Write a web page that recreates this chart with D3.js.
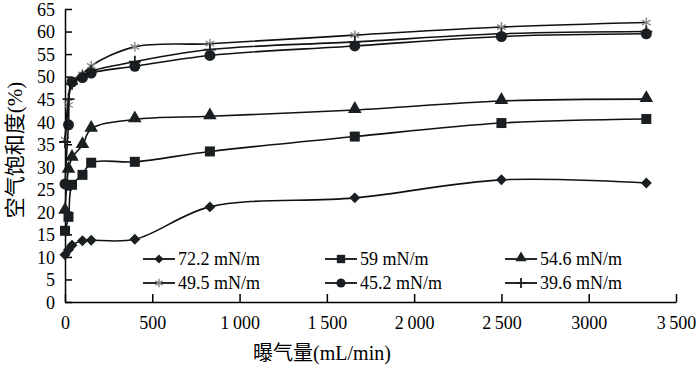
<!DOCTYPE html>
<html>
<head>
<meta charset="utf-8">
<script src="https://cdn.jsdelivr.net/npm/d3@7"></script>
<style>
  body { margin: 0; background: #fff; }
  svg text { font-family: "Liberation Serif", "Times New Roman", "Noto Sans CJK SC", serif; fill: #000; }
</style>
</head>
<body>
<svg id="chart" width="700" height="368"></svg>
<script>
// aeration rate (mL/min)
const flowRates = [0, 20, 40, 100, 150, 400, 830, 1660, 2500, 3330];

const seriesNames = ["72.2 mN/m", "59 mN/m", "54.6 mN/m", "49.5 mN/m", "45.2 mN/m", "39.6 mN/m"];
const s722 = [10.5, 11.6, 12.6, 13.6, 13.7, 13.9, 21.1, 23.1, 27.1, 26.4];
const s59  = [15.8, 18.9, 26.0, 28.2, 30.9, 31.1, 33.4, 36.7, 39.7, 40.6];
const s546 = [20.2, 29.3, 32.0, 34.8, 38.4, 40.5, 41.2, 42.6, 44.6, 45.0];
const s495 = [36.0, 43.7, 49.0, 50.5, 52.4, 56.6, 57.3, 59.2, 61.0, 62.0];
const s452 = [26.2, 39.3, 48.8, 49.8, 50.8, 52.3, 54.7, 56.8, 58.9, 59.5];
const s396 = [35.5, 45.0, 48.4, 50.0, 51.2, 53.3, 56.0, 57.7, 59.5, 60.0];
const allSeries = [s722, s59, s546, s495, s452, s396];

const xTicks = [0, 500, 1000, 1500, 2000, 2500, 3000, 3500];
const xTickLabels = ["0", "500", "1\u2009000", "1\u2009500", "2\u2009000", "2\u2009500", "3000", "3\u2009500"];
const yTicks = d3.range(0, 66, 5);

const svg = d3.select("#chart");
const margin = {left: 65, right: 24, top: 9, bottom: 66};
const W = 700, H = 368;
const serif = "'Liberation Serif', 'Times New Roman', serif";

const x = d3.scaleLinear().domain([0, 3500]).range([margin.left, W - margin.right]);
const y = d3.scaleLinear().domain([0, 65]).range([H - margin.bottom, margin.top]);

// axes, ticks point inward
const xAxis = svg.append("g")
    .attr("transform", `translate(0,${y(0)})`)
    .call(d3.axisBottom(x).tickValues(xTicks)
        .tickFormat((d, i) => xTickLabels[i])
        .tickSizeInner(-8).tickSizeOuter(0).tickPadding(14));
const yAxis = svg.append("g")
    .attr("transform", `translate(${x(0)},0)`)
    .call(d3.axisLeft(y).tickValues(yTicks)
        .tickSizeInner(-7).tickSizeOuter(0).tickPadding(10));

[xAxis, yAxis].forEach(a => {
    a.attr("font-family", null);
    a.select(".domain").attr("stroke", "#000").attr("stroke-width", 1.5);
    a.selectAll(".tick line").attr("stroke", "#000").attr("stroke-width", 1.5);
    a.selectAll("text").style("font-size", "18px").attr("fill", "#000")
        .style("font-family", serif);
});
yAxis.selectAll("text").attr("dy", "0.35em");

// axis titles
svg.append("text")
    .attr("x", 322).attr("y", 360)
    .attr("text-anchor", "middle")
    .style("font-size", "20px")
    .text("曝气量(mL/min)");

svg.append("text")
    .attr("transform", "translate(22,150) rotate(-90)")
    .attr("text-anchor", "middle")
    .style("font-size", "21px")
    .text("空气饱和度(%)");

// markers
function drawMarker(g, i, k = 1) {
    if (i === 0) {
        g.append("path").attr("d", d3.symbol(d3.symbolSquare, 60 * k)())
            .attr("transform", "rotate(45)").attr("fill", "#1a1f22");
    } else if (i === 1) {
        g.append("path").attr("d", d3.symbol(d3.symbolSquare, 100 * k)()).attr("fill", "#1a1f22");
    } else if (i === 2) {
        g.append("path").attr("d", d3.symbol(d3.symbolTriangle, 80 * k)())
            .attr("transform", "translate(0,-1)").attr("fill", "#1a1f22");
    } else if (i === 3) {
        g.append("path").attr("d", d3.symbol(d3.symbolAsterisk, 70 * k)())
            .attr("fill", "none").attr("stroke", "#8a8a8a").attr("stroke-width", 1.4);
    } else if (i === 4) {
        g.append("path").attr("d", d3.symbol(d3.symbolCircle, 95 * k)()).attr("fill", "#1a1f22");
    } else {
        const r = 6 * Math.sqrt(k);
        g.append("path").attr("d", `M${-r},0H${r}M0,${-r}V${r}`)
            .attr("fill", "none").attr("stroke", "#1a1f22").attr("stroke-width", 1.8);
    }
}

const line = d3.line()
    .x((d, i) => x(flowRates[i]))
    .y(d => y(d))
    .curve(d3.curveCatmullRom.alpha(0.5));

allSeries.forEach((vals, si) => {
    const g = svg.append("g");
    g.append("path")
        .datum(vals)
        .attr("fill", "none")
        .attr("stroke", "#111")
        .attr("stroke-width", 1.6)
        .attr("d", line);
    vals.forEach((v, i) => {
        const m = g.append("g").attr("transform", `translate(${x(flowRates[i])},${y(v)})`);
        drawMarker(m, si);
    });
});

// legend, two rows of three
const legendCols = [143, 325, 505];
const legendRows = [259, 283];
seriesNames.forEach((name, i) => {
    const lx = legendCols[i % 3], ly = legendRows[Math.floor(i / 3)];
    const g = svg.append("g").attr("transform", `translate(${lx},${ly})`);
    g.append("line").attr("x1", 0).attr("x2", 32).attr("y1", 0).attr("y2", 0)
        .attr("stroke", "#111").attr("stroke-width", 1.8);
    const m = g.append("g").attr("transform", "translate(16,0)");
    drawMarker(m, i, 0.7);
    g.append("text").attr("x", 35).attr("y", 0).attr("dy", "0.35em")
        .style("font-size", "18px")
        .text(name);
});
</script>
</body>
</html>
